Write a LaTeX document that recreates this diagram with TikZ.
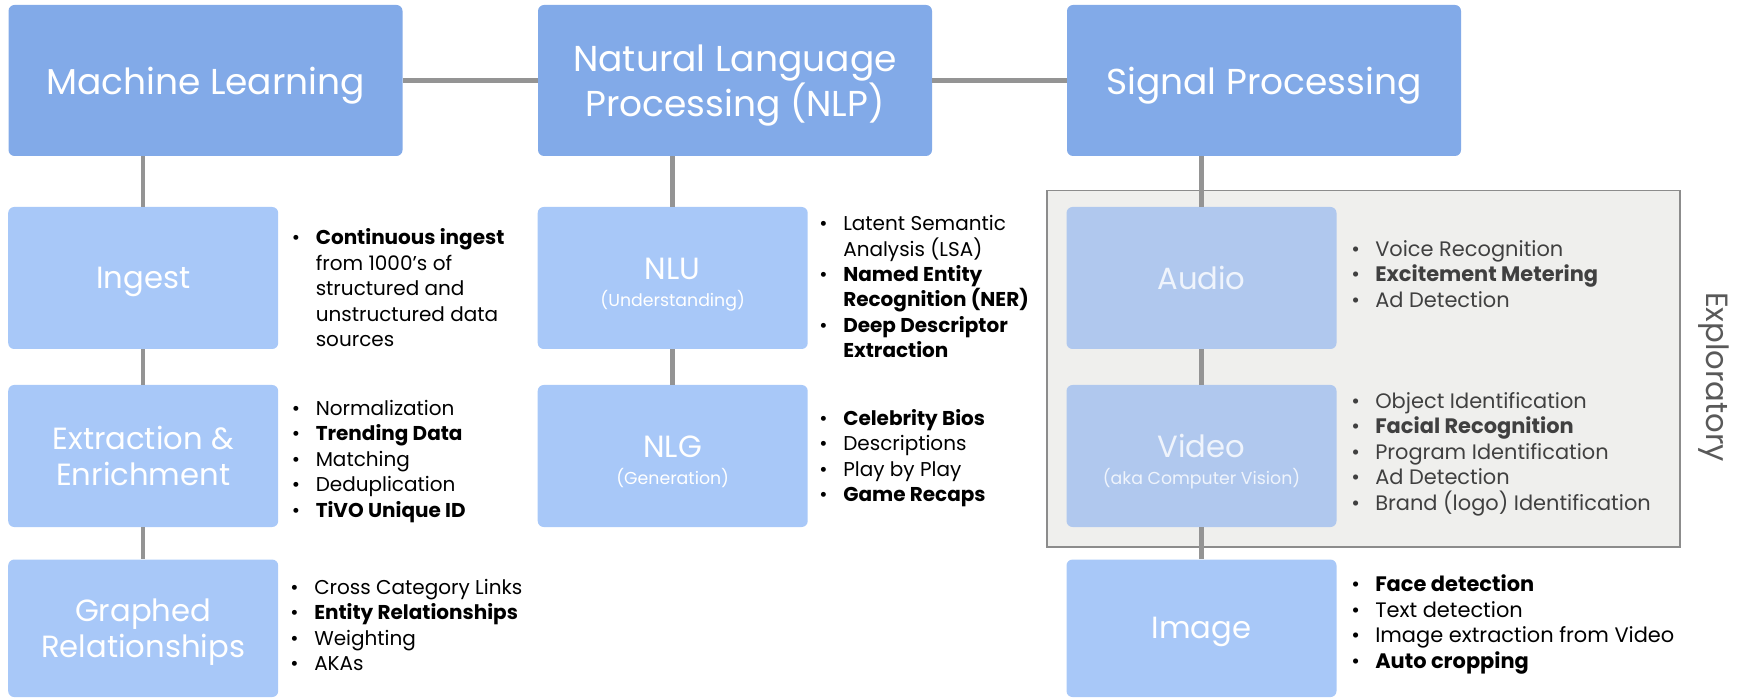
\documentclass[tikz,border=0pt]{standalone}
\usepackage{fontspec}
\setmainfont{Poppins}
\newdimen\pxu \pxu=0.75pt
\definecolor{topblue}{RGB}{130,170,232}
\definecolor{subblue}{RGB}{168,200,248}
\definecolor{greyblue}{RGB}{176,200,238}
\definecolor{explofill}{RGB}{239,239,237}
\definecolor{exploline}{RGB}{140,140,140}
\definecolor{linkgrey}{RGB}{148,148,148}
\definecolor{darktext}{RGB}{64,64,64}
\definecolor{labelgrey}{RGB}{89,89,89}
\newcommand{\itm}{\makebox[24\pxu][l]{\textbullet}}
\newcommand{\ind}{\hspace*{24\pxu}}
\newcommand{\subt}[1]{{\fontsize{13}{15}\selectfont #1}}
\newcommand{\tall}{\rule{0pt}{30\pxu}}
\tikzset{
  topbox/.style={fill=topblue, rounded corners=6\pxu, minimum width=394\pxu, minimum height=151\pxu,
    text=white, align=center, text depth=0pt, font=\fontsize{27}{31.2}\selectfont},
  subbox/.style={fill=subblue, rounded corners=6\pxu, minimum width=270\pxu, minimum height=142\pxu,
    text=white, align=center, text depth=0pt, font=\fontsize{23}{27}\selectfont},
  explosub/.style={subbox, fill=greyblue, text=white!80!greyblue},
  explobox/.style={fill=explofill, draw=exploline, line width=1.5\pxu},
  listtext/.style={anchor=west, align=left, inner sep=0pt, font=\fontsize{15}{19.1}\selectfont},
  widelist/.style={listtext, font=\fontsize{15.7}{19.1}\selectfont},
  link/.style={draw=linkgrey, line width=4.5\pxu},
}
\begin{document}
\begin{tikzpicture}[x=1\pxu, y=-1\pxu]
\useasboundingbox (0,0) rectangle (1742,698);
% exploratory area
\node[explobox, minimum width=633\pxu, minimum height=356.5\pxu] (explo) at (1363.5,368.75) {};
\node[text=labelgrey, rotate=-90, font=\fontsize{23}{27}\selectfont] (explotxt) at (1714,377) {Exploratory};
% top row
\node[topbox] (ml) at (205.5,80.5) {Machine Learning};
\node[topbox] (nlp) at (735,80.5) {Natural Language\\Processing (NLP)};
\node[topbox] (sp) at (1264,80.5) {Signal Processing};
% machine learning column
\node[subbox] (ingest) at (143.2,278) {Ingest};
\node[subbox] (extract) at (143.2,456) {Extraction \&\\Enrichment};
\node[subbox, minimum height=137.5\pxu] (graph) at (143.2,628.3) {Graphed\\Relationships};
% nlp column
\node[subbox] (nlu) at (672.7,278) {\tall NLU\\[-6.5pt]\subt{(Understanding)}};
\node[subbox] (nlg) at (672.7,456) {\tall NLG\\[-6.5pt]\subt{(Generation)}};
% signal column
\node[explosub] (audio) at (1201.5,278) {Audio};
\node[explosub] (video) at (1201.5,456) {\tall Video\\[-6.5pt]\subt{(aka Computer Vision)}};
\node[subbox, minimum height=137.5\pxu] (image) at (1201.5,628.3) {Image};
% links
\draw[link] (ml) -- (nlp);
\draw[link] (nlp) -- (sp);
\draw[link] (ingest.north) -- (ingest.north |- ml.south);
\draw[link] (ingest) -- (extract);
\draw[link] (extract) -- (graph);
\draw[link] (nlu.north) -- (nlu.north |- nlp.south);
\draw[link] (nlu) -- (nlg);
\draw[link] (audio.north) -- (audio.north |- sp.south);
\draw[link] (audio) -- (video);
\draw[link] (video) -- (image);
% lists
\node[listtext] (ingestlist) at (291.5,288) {\itm\textbf{Continuous ingest}\\
  \ind from 1000’s of\\ \ind structured and\\ \ind unstructured data\\ \ind sources};
\node[listtext] (extractlist) at (291.5,461.4) {\itm Normalization\\ \itm\textbf{Trending Data}\\
  \itm Matching\\ \itm Deduplication\\ \itm\textbf{TiVO Unique ID}};
\node[listtext] (graphlist) at (290,625) {\itm Cross Category Links\\ \itm\textbf{Entity Relationships}\\
  \itm Weighting\\ \itm AKAs};
\node[listtext] (nlulist) at (819,286.7) {\itm Latent Semantic\\ \ind Analysis (LSA)\\
  \itm\textbf{Named Entity}\\ \ind\textbf{Recognition (NER)}\\ \itm\textbf{Deep Descriptor}\\ \ind\textbf{Extraction}};
\node[listtext] (nlglist) at (819,458.3) {\itm\textbf{Celebrity Bios}\\ \itm Descriptions\\
  \itm Play by Play\\ \itm\textbf{Game Recaps}};
\node[widelist, text=darktext] (audiolist) at (1351,273.7) {\itm Voice Recognition\\
  \itm\textbf{Excitement Metering}\\ \itm Ad Detection};
\node[widelist, text=darktext] (videolist) at (1351,453.9) {\itm Object Identification\\
  \itm\textbf{Facial Recognition}\\ \itm Program Identification\\ \itm Ad Detection\\ \itm Brand (logo) Identification};
\node[widelist] (imagelist) at (1351,624.3) {\itm\textbf{Face detection}\\ \itm Text detection\\
  \itm Image extraction from Video\\ \itm\textbf{Auto cropping}};
\end{tikzpicture}
\end{document}
